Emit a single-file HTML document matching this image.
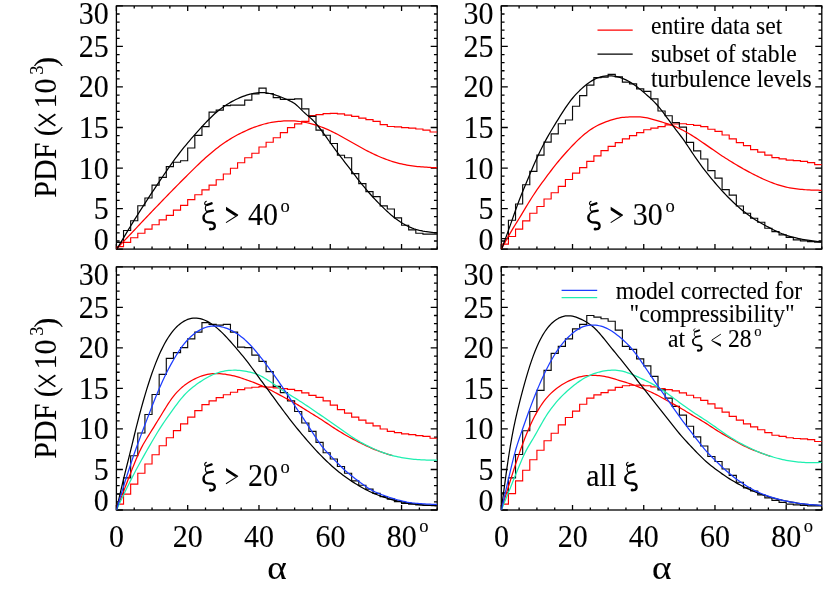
<!DOCTYPE html>
<html><head><meta charset="utf-8"><title>PDF of alpha</title>
<style>
html,body{margin:0;padding:0;background:#fff;}
body{width:830px;height:593px;overflow:hidden;font-family:"Liberation Serif",serif;}
svg{display:block;position:absolute;left:0;top:0;will-change:transform;}
text{font-family:"Liberation Serif",serif;fill:#000;stroke:#000;stroke-width:0.1px;}
.t{font-size:31.05px;}
.s{font-size:19.25px;}
.l{font-size:24.48px;}
.ls{font-size:15.18px;}
.al{font-size:33.22px;}
.xi{font-size:34.78px;}
.lxi{font-size:27.42px;}
.x{font-family:"Liberation Sans",sans-serif;font-size:26.70px;}
</style></head><body>
<svg width="830" height="593" viewBox="0 0 830 593">
<rect width="830" height="593" fill="#fff"/>
<path d="M116.40,249.1 v-5.0 M116.40,5.9 v5.0 M134.22,249.1 v-2.5 M134.22,5.9 v2.5 M152.04,249.1 v-2.5 M152.04,5.9 v2.5 M169.87,249.1 v-2.5 M169.87,5.9 v2.5 M187.69,249.1 v-5.0 M187.69,5.9 v5.0 M205.51,249.1 v-2.5 M205.51,5.9 v2.5 M223.33,249.1 v-2.5 M223.33,5.9 v2.5 M241.16,249.1 v-2.5 M241.16,5.9 v2.5 M258.98,249.1 v-5.0 M258.98,5.9 v5.0 M276.80,249.1 v-2.5 M276.80,5.9 v2.5 M294.62,249.1 v-2.5 M294.62,5.9 v2.5 M312.44,249.1 v-2.5 M312.44,5.9 v2.5 M330.27,249.1 v-5.0 M330.27,5.9 v5.0 M348.09,249.1 v-2.5 M348.09,5.9 v2.5 M365.91,249.1 v-2.5 M365.91,5.9 v2.5 M383.73,249.1 v-2.5 M383.73,5.9 v2.5 M401.56,249.1 v-5.0 M401.56,5.9 v5.0 M419.38,249.1 v-2.5 M419.38,5.9 v2.5 M437.20,249.1 v-2.5 M437.20,5.9 v2.5 M116.4,249.10 h6.5 M437.2,249.10 h-6.5 M116.4,240.99 h3.25 M437.2,240.99 h-3.25 M116.4,232.89 h3.25 M437.2,232.89 h-3.25 M116.4,224.78 h3.25 M437.2,224.78 h-3.25 M116.4,216.67 h3.25 M437.2,216.67 h-3.25 M116.4,208.57 h6.5 M437.2,208.57 h-6.5 M116.4,200.46 h3.25 M437.2,200.46 h-3.25 M116.4,192.35 h3.25 M437.2,192.35 h-3.25 M116.4,184.25 h3.25 M437.2,184.25 h-3.25 M116.4,176.14 h3.25 M437.2,176.14 h-3.25 M116.4,168.03 h6.5 M437.2,168.03 h-6.5 M116.4,159.93 h3.25 M437.2,159.93 h-3.25 M116.4,151.82 h3.25 M437.2,151.82 h-3.25 M116.4,143.71 h3.25 M437.2,143.71 h-3.25 M116.4,135.61 h3.25 M437.2,135.61 h-3.25 M116.4,127.50 h6.5 M437.2,127.50 h-6.5 M116.4,119.39 h3.25 M437.2,119.39 h-3.25 M116.4,111.29 h3.25 M437.2,111.29 h-3.25 M116.4,103.18 h3.25 M437.2,103.18 h-3.25 M116.4,95.07 h3.25 M437.2,95.07 h-3.25 M116.4,86.97 h6.5 M437.2,86.97 h-6.5 M116.4,78.86 h3.25 M437.2,78.86 h-3.25 M116.4,70.75 h3.25 M437.2,70.75 h-3.25 M116.4,62.65 h3.25 M437.2,62.65 h-3.25 M116.4,54.54 h3.25 M437.2,54.54 h-3.25 M116.4,46.43 h6.5 M437.2,46.43 h-6.5 M116.4,38.33 h3.25 M437.2,38.33 h-3.25 M116.4,30.22 h3.25 M437.2,30.22 h-3.25 M116.4,22.11 h3.25 M437.2,22.11 h-3.25 M116.4,14.01 h3.25 M437.2,14.01 h-3.25 M116.4,5.90 h6.5 M437.2,5.90 h-6.5" stroke="#000" stroke-width="1.3" fill="none"/>
<rect x="116.4" y="5.9" width="320.80" height="243.20" fill="none" stroke="#000" stroke-width="1.3"/>
<clipPath id="c1"><rect x="116.4" y="5.9" width="320.80" height="244.00"/></clipPath>
<g clip-path="url(#c1)">
<path d="M116.40,249.10 L116.40,246.67 L123.53,246.67 L123.53,242.37 L130.66,242.37 L130.66,237.75 L137.79,237.75 L137.79,233.29 L144.92,233.29 L144.92,229.08 L152.04,229.08 L152.04,224.78 L159.17,224.78 L159.17,219.92 L166.30,219.92 L166.30,215.30 L173.43,215.30 L173.43,210.19 L180.56,210.19 L180.56,205.32 L187.69,205.32 L187.69,199.65 L194.82,199.65 L194.82,194.79 L201.95,194.79 L201.95,189.92 L209.08,189.92 L209.08,185.06 L216.20,185.06 L216.20,179.71 L223.33,179.71 L223.33,173.95 L230.46,173.95 L230.46,168.28 L237.59,168.28 L237.59,162.76 L244.72,162.76 L244.72,157.74 L251.85,157.74 L251.85,153.28 L258.98,153.28 L258.98,146.96 L266.11,146.96 L266.11,142.25 L273.24,142.25 L273.24,137.71 L280.36,137.71 L280.36,132.69 L287.49,132.69 L287.49,127.66 L294.62,127.66 L294.62,123.93 L301.75,123.93 L301.75,121.42 L308.88,121.42 L308.88,115.66 L316.01,115.66 L316.01,114.69 L323.14,114.69 L323.14,113.64 L330.27,113.64 L330.27,113.39 L337.40,113.39 L337.40,113.88 L344.52,113.88 L344.52,115.18 L351.65,115.18 L351.65,116.39 L358.78,116.39 L358.78,118.18 L365.91,118.18 L365.91,119.64 L373.04,119.64 L373.04,121.42 L380.17,121.42 L380.17,124.66 L387.30,124.66 L387.30,126.45 L394.43,126.45 L394.43,126.93 L401.56,126.93 L401.56,127.66 L408.68,127.66 L408.68,128.15 L415.81,128.15 L415.81,128.96 L422.94,128.96 L422.94,130.18 L430.07,130.18 L430.07,131.96 L437.20,131.96" fill="none" stroke="#ff0000" stroke-width="1.15" stroke-linejoin="miter"/>
<path d="M116.40,249.10 L116.40,242.37 L123.53,242.37 L123.53,230.45 L130.66,230.45 L130.66,220.73 L137.79,220.73 L137.79,205.73 L144.92,205.73 L144.92,198.03 L152.04,198.03 L152.04,185.06 L159.17,185.06 L159.17,177.36 L166.30,177.36 L166.30,166.66 L173.43,166.66 L173.43,162.20 L180.56,162.20 L180.56,160.74 L187.69,160.74 L187.69,148.01 L194.82,148.01 L194.82,135.44 L201.95,135.44 L201.95,126.69 L209.08,126.69 L209.08,112.10 L216.20,112.10 L216.20,110.15 L223.33,110.15 L223.33,105.61 L230.46,105.61 L230.46,105.13 L237.59,105.13 L237.59,105.13 L244.72,105.13 L244.72,100.10 L251.85,100.10 L251.85,93.86 L258.98,93.86 L258.98,88.18 L266.11,88.18 L266.11,93.45 L273.24,93.45 L273.24,97.59 L280.36,97.59 L280.36,99.37 L287.49,99.37 L287.49,99.37 L294.62,99.37 L294.62,98.88 L301.75,98.88 L301.75,108.85 L308.88,108.85 L308.88,116.39 L316.01,116.39 L316.01,130.18 L323.14,130.18 L323.14,135.20 L330.27,135.20 L330.27,143.47 L337.40,143.47 L337.40,155.22 L344.52,155.22 L344.52,157.74 L351.65,157.74 L351.65,173.55 L358.78,173.55 L358.78,183.60 L365.91,183.60 L365.91,191.62 L373.04,191.62 L373.04,196.57 L380.17,196.57 L380.17,205.89 L387.30,205.89 L387.30,208.97 L394.43,208.97 L394.43,217.81 L401.56,217.81 L401.56,225.27 L408.68,225.27 L408.68,229.81 L415.81,229.81 L415.81,233.29 L422.94,233.29 L422.94,234.10 L430.07,234.10 L430.07,234.10 L437.20,234.10" fill="none" stroke="#0a0a0a" stroke-width="1.15" stroke-linejoin="miter"/>
<path d="M116.40,249.10 L118.18,247.21 L119.96,245.32 L121.75,243.43 L123.53,241.54 L125.31,239.65 L127.09,237.76 L128.88,235.88 L130.66,233.99 L132.44,232.10 L134.22,230.21 L136.00,228.32 L137.79,226.44 L139.57,224.55 L141.35,222.67 L143.13,220.78 L144.92,218.90 L146.70,217.02 L148.48,215.15 L150.26,213.27 L152.04,211.40 L153.83,209.54 L155.61,207.68 L157.39,205.82 L159.17,203.96 L160.96,202.11 L162.74,200.26 L164.52,198.42 L166.30,196.58 L168.08,194.75 L169.87,192.92 L171.65,191.10 L173.43,189.28 L175.21,187.46 L177.00,185.65 L178.78,183.85 L180.56,182.05 L182.34,180.26 L184.12,178.48 L185.91,176.70 L187.69,174.93 L189.47,173.16 L191.25,171.40 L193.04,169.65 L194.82,167.91 L196.60,166.17 L198.38,164.45 L200.16,162.75 L201.95,161.08 L203.73,159.43 L205.51,157.81 L207.29,156.22 L209.08,154.67 L210.86,153.15 L212.64,151.67 L214.42,150.23 L216.20,148.82 L217.99,147.45 L219.77,146.12 L221.55,144.82 L223.33,143.55 L225.12,142.32 L226.90,141.12 L228.68,139.97 L230.46,138.85 L232.24,137.77 L234.03,136.74 L235.81,135.75 L237.59,134.80 L239.37,133.88 L241.16,133.01 L242.94,132.15 L244.72,131.31 L246.50,130.48 L248.28,129.67 L250.07,128.89 L251.85,128.15 L253.63,127.46 L255.41,126.83 L257.20,126.22 L258.98,125.64 L260.76,125.06 L262.54,124.51 L264.32,124.00 L266.11,123.53 L267.89,123.12 L269.67,122.75 L271.45,122.44 L273.24,122.15 L275.02,121.89 L276.80,121.65 L278.58,121.44 L280.36,121.26 L282.15,121.10 L283.93,120.98 L285.71,120.89 L287.49,120.83 L289.28,120.81 L291.06,120.82 L292.84,120.88 L294.62,120.98 L296.40,121.11 L298.19,121.29 L299.97,121.50 L301.75,121.76 L303.53,122.05 L305.32,122.38 L307.10,122.74 L308.88,123.15 L310.66,123.59 L312.44,124.07 L314.23,124.58 L316.01,125.13 L317.79,125.71 L319.57,126.33 L321.36,126.98 L323.14,127.67 L324.92,128.39 L326.70,129.14 L328.48,129.93 L330.27,130.74 L332.05,131.59 L333.83,132.47 L335.61,133.37 L337.40,134.30 L339.18,135.25 L340.96,136.21 L342.74,137.19 L344.52,138.19 L346.31,139.20 L348.09,140.21 L349.87,141.23 L351.65,142.25 L353.44,143.27 L355.22,144.29 L357.00,145.30 L358.78,146.31 L360.56,147.30 L362.35,148.29 L364.13,149.25 L365.91,150.20 L367.69,151.13 L369.48,152.03 L371.26,152.91 L373.04,153.77 L374.82,154.61 L376.60,155.42 L378.39,156.21 L380.17,156.97 L381.95,157.71 L383.73,158.42 L385.52,159.11 L387.30,159.76 L389.08,160.39 L390.86,160.99 L392.64,161.57 L394.43,162.11 L396.21,162.62 L397.99,163.11 L399.77,163.56 L401.56,163.98 L403.34,164.37 L405.12,164.73 L406.90,165.06 L408.68,165.36 L410.47,165.63 L412.25,165.89 L414.03,166.12 L415.81,166.33 L417.60,166.52 L419.38,166.69 L421.16,166.84 L422.94,166.99 L424.72,167.11 L426.51,167.23 L428.29,167.34 L430.07,167.44 L431.85,167.53 L433.64,167.62 L435.42,167.71 L437.20,167.79" fill="none" stroke="#ff0000" stroke-width="1.25" stroke-linejoin="round"/>
<path d="M116.40,249.91 L118.18,246.89 L119.96,243.87 L121.75,240.86 L123.53,237.86 L125.31,234.87 L127.09,231.89 L128.88,228.94 L130.66,226.00 L132.44,223.08 L134.22,220.18 L136.00,217.31 L137.79,214.47 L139.57,211.64 L141.35,208.84 L143.13,206.06 L144.92,203.30 L146.70,200.56 L148.48,197.85 L150.26,195.15 L152.04,192.46 L153.83,189.79 L155.61,187.13 L157.39,184.47 L159.17,181.81 L160.96,179.16 L162.74,176.52 L164.52,173.89 L166.30,171.28 L168.08,168.69 L169.87,166.14 L171.65,163.62 L173.43,161.14 L175.21,158.72 L177.00,156.34 L178.78,154.00 L180.56,151.71 L182.34,149.45 L184.12,147.23 L185.91,145.05 L187.69,142.90 L189.47,140.78 L191.25,138.69 L193.04,136.63 L194.82,134.59 L196.60,132.58 L198.38,130.60 L200.16,128.63 L201.95,126.69 L203.73,124.77 L205.51,122.88 L207.29,121.02 L209.08,119.20 L210.86,117.44 L212.64,115.73 L214.42,114.08 L216.20,112.50 L217.99,111.00 L219.77,109.58 L221.55,108.22 L223.33,106.93 L225.12,105.71 L226.90,104.55 L228.68,103.45 L230.46,102.40 L232.24,101.40 L234.03,100.46 L235.81,99.56 L237.59,98.70 L239.37,97.90 L241.16,97.15 L242.94,96.45 L244.72,95.80 L246.50,95.21 L248.28,94.67 L250.07,94.18 L251.85,93.76 L253.63,93.39 L255.41,93.09 L257.20,92.86 L258.98,92.71 L260.76,92.63 L262.54,92.64 L264.32,92.74 L266.11,92.91 L267.89,93.17 L269.67,93.50 L271.45,93.90 L273.24,94.37 L275.02,94.90 L276.80,95.48 L278.58,96.11 L280.36,96.79 L282.15,97.51 L283.93,98.25 L285.71,99.02 L287.49,99.80 L289.28,100.59 L291.06,101.44 L292.84,102.41 L294.62,103.59 L296.40,105.00 L298.19,106.62 L299.97,108.36 L301.75,110.14 L303.53,111.90 L305.32,113.55 L307.10,115.10 L308.88,116.61 L310.66,118.15 L312.44,119.80 L314.23,121.62 L316.01,123.61 L317.79,125.74 L319.57,127.99 L321.36,130.33 L323.14,132.76 L324.92,135.23 L326.70,137.73 L328.48,140.24 L330.27,142.74 L332.05,145.20 L333.83,147.63 L335.61,150.03 L337.40,152.41 L339.18,154.77 L340.96,157.11 L342.74,159.44 L344.52,161.77 L346.31,164.09 L348.09,166.41 L349.87,168.74 L351.65,171.07 L353.44,173.40 L355.22,175.72 L357.00,178.02 L358.78,180.30 L360.56,182.56 L362.35,184.78 L364.13,186.97 L365.91,189.11 L367.69,191.21 L369.48,193.26 L371.26,195.27 L373.04,197.23 L374.82,199.15 L376.60,201.03 L378.39,202.87 L380.17,204.67 L381.95,206.43 L383.73,208.16 L385.52,209.86 L387.30,211.51 L389.08,213.12 L390.86,214.69 L392.64,216.19 L394.43,217.64 L396.21,219.03 L397.99,220.35 L399.77,221.59 L401.56,222.75 L403.34,223.83 L405.12,224.83 L406.90,225.76 L408.68,226.60 L410.47,227.38 L412.25,228.09 L414.03,228.73 L415.81,229.31 L417.60,229.83 L419.38,230.29 L421.16,230.70 L422.94,231.07 L424.72,231.39 L426.51,231.67 L428.29,231.92 L430.07,232.15 L431.85,232.35 L433.64,232.54 L435.42,232.71 L437.20,232.89" fill="none" stroke="#000000" stroke-width="1.25" stroke-linejoin="round"/>
</g>
<text transform="translate(108.70,249.80) scale(0.9662,1)" class="t" text-anchor="end">0</text>
<text transform="translate(108.70,219.07) scale(0.9662,1)" class="t" text-anchor="end">5</text>
<text transform="translate(108.70,178.53) scale(0.9662,1)" class="t" text-anchor="end">10</text>
<text transform="translate(108.70,138.00) scale(0.9662,1)" class="t" text-anchor="end">15</text>
<text transform="translate(108.70,97.47) scale(0.9662,1)" class="t" text-anchor="end">20</text>
<text transform="translate(108.70,56.93) scale(0.9662,1)" class="t" text-anchor="end">25</text>
<text transform="translate(108.70,23.80) scale(0.9662,1)" class="t" text-anchor="end">30</text>
<g transform="translate(55.8,127.50) rotate(-90)">
<text transform="translate(-70.20,0.00) scale(0.9662,1)" class="t" text-anchor="start">PDF <tspan dx="-1.03">(</tspan></text>
<path d="M1.8,-17.2 L13.2,-0.4 M1.8,-0.4 L13.2,-17.2" stroke="#000" stroke-width="1.7" fill="none"/>
<text transform="translate(19.00,0.00) scale(0.9662,1)" class="t" text-anchor="start">10</text>
<text transform="translate(52.80,-12.70) scale(0.9662,1)" class="s" text-anchor="start">3</text>
<text transform="translate(60.60,0.00) scale(0.9662,1)" class="t" text-anchor="start">)</text>
</g>
<path d="M501.30,249.1 v-5.0 M501.30,5.9 v5.0 M519.11,249.1 v-2.5 M519.11,5.9 v2.5 M536.91,249.1 v-2.5 M536.91,5.9 v2.5 M554.72,249.1 v-2.5 M554.72,5.9 v2.5 M572.52,249.1 v-5.0 M572.52,5.9 v5.0 M590.33,249.1 v-2.5 M590.33,5.9 v2.5 M608.13,249.1 v-2.5 M608.13,5.9 v2.5 M625.94,249.1 v-2.5 M625.94,5.9 v2.5 M643.74,249.1 v-5.0 M643.74,5.9 v5.0 M661.55,249.1 v-2.5 M661.55,5.9 v2.5 M679.36,249.1 v-2.5 M679.36,5.9 v2.5 M697.16,249.1 v-2.5 M697.16,5.9 v2.5 M714.97,249.1 v-5.0 M714.97,5.9 v5.0 M732.77,249.1 v-2.5 M732.77,5.9 v2.5 M750.58,249.1 v-2.5 M750.58,5.9 v2.5 M768.38,249.1 v-2.5 M768.38,5.9 v2.5 M786.19,249.1 v-5.0 M786.19,5.9 v5.0 M803.99,249.1 v-2.5 M803.99,5.9 v2.5 M821.80,249.1 v-2.5 M821.80,5.9 v2.5 M501.3,249.10 h6.5 M821.8,249.10 h-6.5 M501.3,240.99 h3.25 M821.8,240.99 h-3.25 M501.3,232.89 h3.25 M821.8,232.89 h-3.25 M501.3,224.78 h3.25 M821.8,224.78 h-3.25 M501.3,216.67 h3.25 M821.8,216.67 h-3.25 M501.3,208.57 h6.5 M821.8,208.57 h-6.5 M501.3,200.46 h3.25 M821.8,200.46 h-3.25 M501.3,192.35 h3.25 M821.8,192.35 h-3.25 M501.3,184.25 h3.25 M821.8,184.25 h-3.25 M501.3,176.14 h3.25 M821.8,176.14 h-3.25 M501.3,168.03 h6.5 M821.8,168.03 h-6.5 M501.3,159.93 h3.25 M821.8,159.93 h-3.25 M501.3,151.82 h3.25 M821.8,151.82 h-3.25 M501.3,143.71 h3.25 M821.8,143.71 h-3.25 M501.3,135.61 h3.25 M821.8,135.61 h-3.25 M501.3,127.50 h6.5 M821.8,127.50 h-6.5 M501.3,119.39 h3.25 M821.8,119.39 h-3.25 M501.3,111.29 h3.25 M821.8,111.29 h-3.25 M501.3,103.18 h3.25 M821.8,103.18 h-3.25 M501.3,95.07 h3.25 M821.8,95.07 h-3.25 M501.3,86.97 h6.5 M821.8,86.97 h-6.5 M501.3,78.86 h3.25 M821.8,78.86 h-3.25 M501.3,70.75 h3.25 M821.8,70.75 h-3.25 M501.3,62.65 h3.25 M821.8,62.65 h-3.25 M501.3,54.54 h3.25 M821.8,54.54 h-3.25 M501.3,46.43 h6.5 M821.8,46.43 h-6.5 M501.3,38.33 h3.25 M821.8,38.33 h-3.25 M501.3,30.22 h3.25 M821.8,30.22 h-3.25 M501.3,22.11 h3.25 M821.8,22.11 h-3.25 M501.3,14.01 h3.25 M821.8,14.01 h-3.25 M501.3,5.90 h6.5 M821.8,5.90 h-6.5" stroke="#000" stroke-width="1.3" fill="none"/>
<rect x="501.3" y="5.9" width="320.50" height="243.20" fill="none" stroke="#000" stroke-width="1.3"/>
<clipPath id="c2"><rect x="501.3" y="5.9" width="320.50" height="244.00"/></clipPath>
<g clip-path="url(#c2)">
<path d="M501.30,249.10 L501.30,244.07 L508.42,244.07 L508.42,236.53 L515.54,236.53 L515.54,229.08 L522.67,229.08 L522.67,220.81 L529.79,220.81 L529.79,213.27 L536.91,213.27 L536.91,206.46 L544.03,206.46 L544.03,199.00 L551.16,199.00 L551.16,192.76 L558.28,192.76 L558.28,186.44 L565.40,186.44 L565.40,179.46 L572.52,179.46 L572.52,173.14 L579.64,173.14 L579.64,167.63 L586.77,167.63 L586.77,161.39 L593.89,161.39 L593.89,155.87 L601.01,155.87 L601.01,150.60 L608.13,150.60 L608.13,146.39 L615.26,146.39 L615.26,142.58 L622.38,142.58 L622.38,138.85 L629.50,138.85 L629.50,135.61 L636.62,135.61 L636.62,132.61 L643.74,132.61 L643.74,129.77 L650.87,129.77 L650.87,128.15 L657.99,128.15 L657.99,126.69 L665.11,126.69 L665.11,124.82 L672.23,124.82 L672.23,124.01 L679.36,124.01 L679.36,123.77 L686.48,123.77 L686.48,124.50 L693.60,124.50 L693.60,125.39 L700.72,125.39 L700.72,126.69 L707.84,126.69 L707.84,129.28 L714.97,129.28 L714.97,131.31 L722.09,131.31 L722.09,135.04 L729.21,135.04 L729.21,138.85 L736.33,138.85 L736.33,142.58 L743.46,142.58 L743.46,145.58 L750.58,145.58 L750.58,149.63 L757.70,149.63 L757.70,152.14 L764.82,152.14 L764.82,155.14 L771.94,155.14 L771.94,157.66 L779.07,157.66 L779.07,158.87 L786.19,158.87 L786.19,160.17 L793.31,160.17 L793.31,160.66 L800.43,160.66 L800.43,161.39 L807.56,161.39 L807.56,162.60 L814.68,162.60 L814.68,164.63 L821.80,164.63" fill="none" stroke="#ff0000" stroke-width="1.15" stroke-linejoin="miter"/>
<path d="M501.30,249.10 L501.30,238.56 L508.42,238.56 L508.42,220.24 L515.54,220.24 L515.54,204.03 L522.67,204.03 L522.67,184.73 L529.79,184.73 L529.79,171.44 L536.91,171.44 L536.91,155.14 L544.03,155.14 L544.03,142.09 L551.16,142.09 L551.16,133.82 L558.28,133.82 L558.28,123.77 L565.40,123.77 L565.40,120.04 L572.52,120.04 L572.52,106.26 L579.64,106.26 L579.64,95.64 L586.77,95.64 L586.77,85.10 L593.89,85.10 L593.89,77.56 L601.01,77.56 L601.01,77.08 L608.13,77.08 L608.13,74.32 L615.26,74.32 L615.26,76.83 L622.38,76.83 L622.38,82.10 L629.50,82.10 L629.50,83.81 L636.62,83.81 L636.62,88.83 L643.74,88.83 L643.74,91.34 L650.87,91.34 L650.87,98.88 L657.99,98.88 L657.99,111.04 L665.11,111.04 L665.11,115.75 L672.23,115.75 L672.23,122.64 L679.36,122.64 L679.36,127.09 L686.48,127.09 L686.48,142.42 L693.60,142.42 L693.60,150.85 L700.72,150.85 L700.72,158.95 L707.84,158.95 L707.84,170.63 L714.97,170.63 L714.97,178.17 L722.09,178.17 L722.09,189.68 L729.21,189.68 L729.21,195.19 L736.33,195.19 L736.33,205.97 L743.46,205.97 L743.46,213.27 L750.58,213.27 L750.58,218.29 L757.70,218.29 L757.70,222.27 L764.82,222.27 L764.82,228.27 L771.94,228.27 L771.94,231.59 L779.07,231.59 L779.07,234.83 L786.19,234.83 L786.19,237.35 L793.31,237.35 L793.31,239.86 L800.43,239.86 L800.43,240.83 L807.56,240.83 L807.56,241.56 L814.68,241.56 L814.68,242.05 L821.80,242.05" fill="none" stroke="#0a0a0a" stroke-width="1.15" stroke-linejoin="miter"/>
<path d="M501.30,249.10 L503.08,245.84 L504.86,242.60 L506.64,239.39 L508.42,236.24 L510.20,233.15 L511.98,230.14 L513.76,227.19 L515.54,224.28 L517.33,221.39 L519.11,218.49 L520.89,215.57 L522.67,212.62 L524.45,209.65 L526.23,206.69 L528.01,203.75 L529.79,200.86 L531.57,198.02 L533.35,195.26 L535.13,192.57 L536.91,189.96 L538.69,187.41 L540.47,184.91 L542.25,182.45 L544.03,180.02 L545.81,177.61 L547.59,175.22 L549.38,172.84 L551.16,170.50 L552.94,168.18 L554.72,165.91 L556.50,163.68 L558.28,161.49 L560.06,159.36 L561.84,157.27 L563.62,155.22 L565.40,153.22 L567.18,151.25 L568.96,149.32 L570.74,147.41 L572.52,145.54 L574.30,143.71 L576.08,141.91 L577.86,140.17 L579.64,138.48 L581.42,136.86 L583.21,135.30 L584.99,133.82 L586.77,132.40 L588.55,131.07 L590.33,129.81 L592.11,128.62 L593.89,127.52 L595.67,126.49 L597.45,125.54 L599.23,124.66 L601.01,123.84 L602.79,123.08 L604.57,122.36 L606.35,121.69 L608.13,121.05 L609.91,120.44 L611.69,119.87 L613.48,119.33 L615.26,118.85 L617.04,118.41 L618.82,118.03 L620.60,117.71 L622.38,117.46 L624.16,117.27 L625.94,117.12 L627.72,117.02 L629.50,116.95 L631.28,116.90 L633.06,116.88 L634.84,116.86 L636.62,116.87 L638.40,116.90 L640.18,116.99 L641.96,117.13 L643.74,117.33 L645.52,117.61 L647.31,117.97 L649.09,118.40 L650.87,118.88 L652.65,119.39 L654.43,119.91 L656.21,120.42 L657.99,120.93 L659.77,121.44 L661.55,121.96 L663.33,122.49 L665.11,123.03 L666.89,123.59 L668.67,124.18 L670.45,124.80 L672.23,125.46 L674.01,126.16 L675.79,126.91 L677.57,127.70 L679.36,128.53 L681.14,129.40 L682.92,130.31 L684.70,131.26 L686.48,132.24 L688.26,133.26 L690.04,134.31 L691.82,135.39 L693.60,136.50 L695.38,137.63 L697.16,138.80 L698.94,139.98 L700.72,141.18 L702.50,142.40 L704.28,143.63 L706.06,144.87 L707.84,146.12 L709.62,147.37 L711.41,148.62 L713.19,149.86 L714.97,151.10 L716.75,152.32 L718.53,153.53 L720.31,154.73 L722.09,155.90 L723.87,157.05 L725.65,158.19 L727.43,159.32 L729.21,160.44 L730.99,161.55 L732.77,162.64 L734.55,163.72 L736.33,164.79 L738.11,165.84 L739.89,166.88 L741.67,167.91 L743.46,168.92 L745.24,169.91 L747.02,170.89 L748.80,171.85 L750.58,172.80 L752.36,173.73 L754.14,174.64 L755.92,175.54 L757.70,176.42 L759.48,177.28 L761.26,178.13 L763.04,178.95 L764.82,179.74 L766.60,180.52 L768.38,181.27 L770.16,181.99 L771.94,182.68 L773.72,183.34 L775.51,183.98 L777.29,184.58 L779.07,185.15 L780.85,185.69 L782.63,186.19 L784.41,186.66 L786.19,187.09 L787.97,187.49 L789.75,187.85 L791.53,188.17 L793.31,188.46 L795.09,188.72 L796.87,188.95 L798.65,189.15 L800.43,189.33 L802.21,189.49 L803.99,189.63 L805.77,189.75 L807.56,189.85 L809.34,189.94 L811.12,190.02 L812.90,190.09 L814.68,190.15 L816.46,190.20 L818.24,190.24 L820.02,190.29 L821.80,190.33" fill="none" stroke="#ff0000" stroke-width="1.25" stroke-linejoin="round"/>
<path d="M501.30,249.91 L503.08,245.09 L504.86,240.24 L506.64,235.35 L508.42,230.40 L510.20,225.39 L511.98,220.34 L513.76,215.30 L515.54,210.28 L517.33,205.34 L519.11,200.54 L520.89,195.94 L522.67,191.52 L524.45,187.23 L526.23,182.96 L528.01,178.68 L529.79,174.38 L531.57,170.14 L533.35,165.98 L535.13,161.93 L536.91,158.00 L538.69,154.19 L540.47,150.49 L542.25,146.92 L544.03,143.46 L545.81,140.12 L547.59,136.90 L549.38,133.77 L551.16,130.73 L552.94,127.75 L554.72,124.82 L556.50,121.93 L558.28,119.06 L560.06,116.20 L561.84,113.38 L563.62,110.61 L565.40,107.92 L567.18,105.32 L568.96,102.83 L570.74,100.47 L572.52,98.25 L574.30,96.16 L576.08,94.19 L577.86,92.33 L579.64,90.57 L581.42,88.90 L583.21,87.30 L584.99,85.78 L586.77,84.34 L588.55,83.00 L590.33,81.75 L592.11,80.61 L593.89,79.59 L595.67,78.69 L597.45,77.93 L599.23,77.29 L601.01,76.77 L602.79,76.37 L604.57,76.08 L606.35,75.89 L608.13,75.79 L609.91,75.79 L611.69,75.88 L613.48,76.05 L615.26,76.32 L617.04,76.68 L618.82,77.13 L620.60,77.68 L622.38,78.32 L624.16,79.06 L625.94,79.89 L627.72,80.80 L629.50,81.80 L631.28,82.88 L633.06,84.04 L634.84,85.28 L636.62,86.59 L638.40,87.95 L640.18,89.37 L641.96,90.83 L643.74,92.33 L645.52,93.86 L647.31,95.41 L649.09,96.99 L650.87,98.63 L652.65,100.33 L654.43,102.12 L656.21,104.01 L657.99,106.02 L659.77,108.15 L661.55,110.39 L663.33,112.72 L665.11,115.11 L666.89,117.54 L668.67,119.99 L670.45,122.44 L672.23,124.86 L674.01,127.22 L675.79,129.54 L677.57,131.84 L679.36,134.15 L681.14,136.50 L682.92,138.93 L684.70,141.46 L686.48,144.07 L688.26,146.73 L690.04,149.42 L691.82,152.10 L693.60,154.75 L695.38,157.35 L697.16,159.92 L698.94,162.44 L700.72,164.90 L702.50,167.32 L704.28,169.68 L706.06,171.98 L707.84,174.22 L709.62,176.42 L711.41,178.57 L713.19,180.69 L714.97,182.76 L716.75,184.81 L718.53,186.84 L720.31,188.83 L722.09,190.80 L723.87,192.73 L725.65,194.63 L727.43,196.48 L729.21,198.29 L730.99,200.05 L732.77,201.76 L734.55,203.43 L736.33,205.05 L738.11,206.63 L739.89,208.18 L741.67,209.68 L743.46,211.15 L745.24,212.58 L747.02,213.96 L748.80,215.31 L750.58,216.61 L752.36,217.86 L754.14,219.05 L755.92,220.18 L757.70,221.27 L759.48,222.30 L761.26,223.30 L763.04,224.28 L764.82,225.24 L766.60,226.18 L768.38,227.13 L770.16,228.08 L771.94,229.02 L773.72,229.94 L775.51,230.83 L777.29,231.68 L779.07,232.50 L780.85,233.25 L782.63,233.96 L784.41,234.61 L786.19,235.22 L787.97,235.79 L789.75,236.32 L791.53,236.82 L793.31,237.29 L795.09,237.73 L796.87,238.15 L798.65,238.55 L800.43,238.92 L802.21,239.27 L803.99,239.59 L805.77,239.90 L807.56,240.18 L809.34,240.44 L811.12,240.69 L812.90,240.92 L814.68,241.15 L816.46,241.36 L818.24,241.57 L820.02,241.77 L821.80,241.97" fill="none" stroke="#000000" stroke-width="1.25" stroke-linejoin="round"/>
</g>
<text transform="translate(493.60,249.80) scale(0.9662,1)" class="t" text-anchor="end">0</text>
<text transform="translate(493.60,219.07) scale(0.9662,1)" class="t" text-anchor="end">5</text>
<text transform="translate(493.60,178.53) scale(0.9662,1)" class="t" text-anchor="end">10</text>
<text transform="translate(493.60,138.00) scale(0.9662,1)" class="t" text-anchor="end">15</text>
<text transform="translate(493.60,97.47) scale(0.9662,1)" class="t" text-anchor="end">20</text>
<text transform="translate(493.60,56.93) scale(0.9662,1)" class="t" text-anchor="end">25</text>
<text transform="translate(493.60,23.80) scale(0.9662,1)" class="t" text-anchor="end">30</text>
<path d="M116.40,510.0 v-5.0 M116.40,266.9 v5.0 M134.22,510.0 v-2.5 M134.22,266.9 v2.5 M152.04,510.0 v-2.5 M152.04,266.9 v2.5 M169.87,510.0 v-2.5 M169.87,266.9 v2.5 M187.69,510.0 v-5.0 M187.69,266.9 v5.0 M205.51,510.0 v-2.5 M205.51,266.9 v2.5 M223.33,510.0 v-2.5 M223.33,266.9 v2.5 M241.16,510.0 v-2.5 M241.16,266.9 v2.5 M258.98,510.0 v-5.0 M258.98,266.9 v5.0 M276.80,510.0 v-2.5 M276.80,266.9 v2.5 M294.62,510.0 v-2.5 M294.62,266.9 v2.5 M312.44,510.0 v-2.5 M312.44,266.9 v2.5 M330.27,510.0 v-5.0 M330.27,266.9 v5.0 M348.09,510.0 v-2.5 M348.09,266.9 v2.5 M365.91,510.0 v-2.5 M365.91,266.9 v2.5 M383.73,510.0 v-2.5 M383.73,266.9 v2.5 M401.56,510.0 v-5.0 M401.56,266.9 v5.0 M419.38,510.0 v-2.5 M419.38,266.9 v2.5 M437.20,510.0 v-2.5 M437.20,266.9 v2.5 M116.4,510.00 h6.5 M437.2,510.00 h-6.5 M116.4,501.90 h3.25 M437.2,501.90 h-3.25 M116.4,493.79 h3.25 M437.2,493.79 h-3.25 M116.4,485.69 h3.25 M437.2,485.69 h-3.25 M116.4,477.59 h3.25 M437.2,477.59 h-3.25 M116.4,469.48 h6.5 M437.2,469.48 h-6.5 M116.4,461.38 h3.25 M437.2,461.38 h-3.25 M116.4,453.28 h3.25 M437.2,453.28 h-3.25 M116.4,445.17 h3.25 M437.2,445.17 h-3.25 M116.4,437.07 h3.25 M437.2,437.07 h-3.25 M116.4,428.97 h6.5 M437.2,428.97 h-6.5 M116.4,420.86 h3.25 M437.2,420.86 h-3.25 M116.4,412.76 h3.25 M437.2,412.76 h-3.25 M116.4,404.66 h3.25 M437.2,404.66 h-3.25 M116.4,396.55 h3.25 M437.2,396.55 h-3.25 M116.4,388.45 h6.5 M437.2,388.45 h-6.5 M116.4,380.35 h3.25 M437.2,380.35 h-3.25 M116.4,372.24 h3.25 M437.2,372.24 h-3.25 M116.4,364.14 h3.25 M437.2,364.14 h-3.25 M116.4,356.04 h3.25 M437.2,356.04 h-3.25 M116.4,347.93 h6.5 M437.2,347.93 h-6.5 M116.4,339.83 h3.25 M437.2,339.83 h-3.25 M116.4,331.73 h3.25 M437.2,331.73 h-3.25 M116.4,323.62 h3.25 M437.2,323.62 h-3.25 M116.4,315.52 h3.25 M437.2,315.52 h-3.25 M116.4,307.42 h6.5 M437.2,307.42 h-6.5 M116.4,299.31 h3.25 M437.2,299.31 h-3.25 M116.4,291.21 h3.25 M437.2,291.21 h-3.25 M116.4,283.11 h3.25 M437.2,283.11 h-3.25 M116.4,275.00 h3.25 M437.2,275.00 h-3.25 M116.4,266.90 h6.5 M437.2,266.90 h-6.5" stroke="#000" stroke-width="1.3" fill="none"/>
<rect x="116.4" y="266.9" width="320.80" height="243.10" fill="none" stroke="#000" stroke-width="1.3"/>
<clipPath id="c3"><rect x="116.4" y="266.9" width="320.80" height="243.90"/></clipPath>
<g clip-path="url(#c3)">
<path d="M116.40,510.00 L116.40,504.08 L123.53,504.08 L123.53,494.12 L130.66,494.12 L130.66,484.07 L137.79,484.07 L137.79,473.29 L144.92,473.29 L144.92,463.97 L152.04,463.97 L152.04,454.74 L159.17,454.74 L159.17,445.74 L166.30,445.74 L166.30,437.72 L173.43,437.72 L173.43,430.67 L180.56,430.67 L180.56,423.94 L187.69,423.94 L187.69,417.14 L194.82,417.14 L194.82,410.65 L201.95,410.65 L201.95,404.66 L209.08,404.66 L209.08,400.85 L216.20,400.85 L216.20,397.61 L223.33,397.61 L223.33,394.77 L230.46,394.77 L230.46,392.26 L237.59,392.26 L237.59,389.67 L244.72,389.67 L244.72,388.04 L251.85,388.04 L251.85,387.23 L258.98,387.23 L258.98,386.67 L266.11,386.67 L266.11,387.07 L273.24,387.07 L273.24,387.80 L280.36,387.80 L280.36,388.61 L287.49,388.61 L287.49,389.34 L294.62,389.34 L294.62,390.64 L301.75,390.64 L301.75,392.83 L308.88,392.83 L308.88,395.34 L316.01,395.34 L316.01,397.36 L323.14,397.36 L323.14,400.85 L330.27,400.85 L330.27,405.06 L337.40,405.06 L337.40,409.60 L344.52,409.60 L344.52,413.08 L351.65,413.08 L351.65,417.14 L358.78,417.14 L358.78,420.13 L365.91,420.13 L365.91,423.13 L373.04,423.13 L373.04,425.89 L380.17,425.89 L380.17,428.97 L387.30,428.97 L387.30,431.40 L394.43,431.40 L394.43,432.69 L401.56,432.69 L401.56,433.91 L408.68,433.91 L408.68,434.64 L415.81,434.64 L415.81,435.69 L422.94,435.69 L422.94,436.42 L430.07,436.42 L430.07,438.20 L437.20,438.20" fill="none" stroke="#ff0000" stroke-width="1.15" stroke-linejoin="miter"/>
<path d="M116.40,510.00 L116.40,494.12 L123.53,494.12 L123.53,477.83 L130.66,477.83 L130.66,455.71 L137.79,455.71 L137.79,433.02 L144.92,433.02 L144.92,414.54 L152.04,414.54 L152.04,394.53 L159.17,394.53 L159.17,374.43 L166.30,374.43 L166.30,358.39 L173.43,358.39 L173.43,352.63 L180.56,352.63 L180.56,347.61 L187.69,347.61 L187.69,338.86 L194.82,338.86 L194.82,332.05 L201.95,332.05 L201.95,322.57 L209.08,322.57 L209.08,324.35 L216.20,324.35 L216.20,325.08 L223.33,325.08 L223.33,324.35 L230.46,324.35 L230.46,332.05 L237.59,332.05 L237.59,347.12 L244.72,347.12 L244.72,347.61 L251.85,347.61 L251.85,355.15 L258.98,355.15 L258.98,361.38 L266.11,361.38 L266.11,371.68 L273.24,371.68 L273.24,386.42 L280.36,386.42 L280.36,392.66 L287.49,392.66 L287.49,400.93 L294.62,400.93 L294.62,411.46 L301.75,411.46 L301.75,422.97 L308.88,422.97 L308.88,431.40 L316.01,431.40 L316.01,442.34 L323.14,442.34 L323.14,452.71 L330.27,452.71 L330.27,459.03 L337.40,459.03 L337.40,466.49 L344.52,466.49 L344.52,473.29 L351.65,473.29 L351.65,480.83 L358.78,480.83 L358.78,485.28 L365.91,485.28 L365.91,489.09 L373.04,489.09 L373.04,493.31 L380.17,493.31 L380.17,496.55 L387.30,496.55 L387.30,499.06 L394.43,499.06 L394.43,501.57 L401.56,501.57 L401.56,503.36 L408.68,503.36 L408.68,504.08 L415.81,504.08 L415.81,504.89 L422.94,504.89 L422.94,505.38 L430.07,505.38 L430.07,505.38 L437.20,505.38" fill="none" stroke="#0a0a0a" stroke-width="1.15" stroke-linejoin="miter"/>
<path d="M116.40,510.00 L118.18,505.37 L119.96,500.74 L121.75,496.11 L123.53,491.48 L125.31,486.85 L127.09,482.22 L128.88,477.59 L130.66,472.96 L132.44,468.38 L134.22,463.90 L136.00,459.55 L137.79,455.40 L139.57,451.48 L141.35,447.85 L143.13,444.52 L144.92,441.44 L146.70,438.51 L148.48,435.64 L150.26,432.77 L152.04,429.91 L153.83,427.05 L155.61,424.18 L157.39,421.29 L159.17,418.39 L160.96,415.46 L162.74,412.52 L164.52,409.59 L166.30,406.72 L168.08,403.93 L169.87,401.24 L171.65,398.71 L173.43,396.35 L175.21,394.18 L177.00,392.18 L178.78,390.33 L180.56,388.64 L182.34,387.07 L184.12,385.62 L185.91,384.28 L187.69,383.02 L189.47,381.85 L191.25,380.77 L193.04,379.77 L194.82,378.84 L196.60,377.99 L198.38,377.21 L200.16,376.49 L201.95,375.85 L203.73,375.28 L205.51,374.78 L207.29,374.37 L209.08,374.04 L210.86,373.79 L212.64,373.62 L214.42,373.54 L216.20,373.52 L217.99,373.56 L219.77,373.66 L221.55,373.81 L223.33,374.01 L225.12,374.24 L226.90,374.51 L228.68,374.81 L230.46,375.16 L232.24,375.54 L234.03,375.97 L235.81,376.43 L237.59,376.93 L239.37,377.46 L241.16,378.02 L242.94,378.61 L244.72,379.22 L246.50,379.84 L248.28,380.47 L250.07,381.12 L251.85,381.78 L253.63,382.45 L255.41,383.14 L257.20,383.86 L258.98,384.60 L260.76,385.36 L262.54,386.16 L264.32,386.99 L266.11,387.84 L267.89,388.71 L269.67,389.61 L271.45,390.53 L273.24,391.48 L275.02,392.43 L276.80,393.40 L278.58,394.38 L280.36,395.35 L282.15,396.31 L283.93,397.26 L285.71,398.20 L287.49,399.14 L289.28,400.08 L291.06,401.04 L292.84,402.02 L294.62,403.04 L296.40,404.08 L298.19,405.16 L299.97,406.26 L301.75,407.38 L303.53,408.50 L305.32,409.62 L307.10,410.73 L308.88,411.83 L310.66,412.92 L312.44,414.01 L314.23,415.10 L316.01,416.19 L317.79,417.30 L319.57,418.43 L321.36,419.59 L323.14,420.76 L324.92,421.95 L326.70,423.14 L328.48,424.34 L330.27,425.53 L332.05,426.71 L333.83,427.87 L335.61,429.01 L337.40,430.13 L339.18,431.23 L340.96,432.32 L342.74,433.38 L344.52,434.43 L346.31,435.46 L348.09,436.47 L349.87,437.46 L351.65,438.42 L353.44,439.36 L355.22,440.28 L357.00,441.18 L358.78,442.09 L360.56,442.99 L362.35,443.88 L364.13,444.75 L365.91,445.61 L367.69,446.45 L369.48,447.27 L371.26,448.06 L373.04,448.83 L374.82,449.57 L376.60,450.28 L378.39,450.98 L380.17,451.64 L381.95,452.28 L383.73,452.89 L385.52,453.48 L387.30,454.04 L389.08,454.57 L390.86,455.09 L392.64,455.57" fill="none" stroke="#ff0000" stroke-width="1.25" stroke-linejoin="round"/>
<path d="M116.40,510.00 L118.18,506.22 L119.96,502.44 L121.75,498.68 L123.53,494.95 L125.31,491.24 L127.09,487.58 L128.88,483.96 L130.66,480.39 L132.44,476.89 L134.22,473.46 L136.00,470.08 L137.79,466.76 L139.57,463.50 L141.35,460.27 L143.13,457.08 L144.92,453.92 L146.70,450.79 L148.48,447.67 L150.26,444.57 L152.04,441.50 L153.83,438.47 L155.61,435.48 L157.39,432.55 L159.17,429.68 L160.96,426.88 L162.74,424.15 L164.52,421.48 L166.30,418.87 L168.08,416.31 L169.87,413.79 L171.65,411.31 L173.43,408.84 L175.21,406.41 L177.00,404.02 L178.78,401.70 L180.56,399.45 L182.34,397.31 L184.12,395.28 L185.91,393.38 L187.69,391.62 L189.47,389.99 L191.25,388.46 L193.04,387.02 L194.82,385.65 L196.60,384.35 L198.38,383.09 L200.16,381.87 L201.95,380.68 L203.73,379.55 L205.51,378.47 L207.29,377.45 L209.08,376.49 L210.86,375.59 L212.64,374.77 L214.42,374.03 L216.20,373.35 L217.99,372.74 L219.77,372.20 L221.55,371.72 L223.33,371.32 L225.12,370.98 L226.90,370.70 L228.68,370.49 L230.46,370.34 L232.24,370.25 L234.03,370.22 L235.81,370.24 L237.59,370.33 L239.37,370.46 L241.16,370.64 L242.94,370.88 L244.72,371.15 L246.50,371.47 L248.28,371.83 L250.07,372.23 L251.85,372.68 L253.63,373.19 L255.41,373.77 L257.20,374.42 L258.98,375.15 L260.76,375.98 L262.54,376.91 L264.32,377.92 L266.11,379.01 L267.89,380.15 L269.67,381.35 L271.45,382.58 L273.24,383.84 L275.02,385.11 L276.80,386.38 L278.58,387.64 L280.36,388.87 L282.15,390.07 L283.93,391.23 L285.71,392.35 L287.49,393.44 L289.28,394.52 L291.06,395.60 L292.84,396.68 L294.62,397.77 L296.40,398.88 L298.19,400.02 L299.97,401.17 L301.75,402.34 L303.53,403.51 L305.32,404.69 L307.10,405.87 L308.88,407.05 L310.66,408.23 L312.44,409.43 L314.23,410.66 L316.01,411.89 L317.79,413.14 L319.57,414.38 L321.36,415.62 L323.14,416.86 L324.92,418.10 L326.70,419.33 L328.48,420.57 L330.27,421.80 L332.05,423.05 L333.83,424.29 L335.61,425.54 L337.40,426.79 L339.18,428.04 L340.96,429.30 L342.74,430.55 L344.52,431.80 L346.31,433.04 L348.09,434.28 L349.87,435.50 L351.65,436.70 L353.44,437.87 L355.22,439.00 L357.00,440.10 L358.78,441.15 L360.56,442.17 L362.35,443.15 L364.13,444.10 L365.91,445.02 L367.69,445.92 L369.48,446.79 L371.26,447.63 L373.04,448.46 L374.82,449.25 L376.60,450.03 L378.39,450.77 L380.17,451.49 L381.95,452.17 L383.73,452.82 L385.52,453.44 L387.30,454.02 L389.08,454.57 L390.86,455.09 L392.64,455.57 L394.43,456.03 L396.21,456.45 L397.99,456.84 L399.77,457.20 L401.56,457.54 L403.34,457.85 L405.12,458.14 L406.90,458.41 L408.68,458.66 L410.47,458.89 L412.25,459.09 L414.03,459.28 L415.81,459.45 L417.60,459.59 L419.38,459.72 L421.16,459.82 L422.94,459.90 L424.72,459.96 L426.51,460.01 L428.29,460.04 L430.07,460.06 L431.85,460.08 L433.64,460.08 L435.42,460.08 L437.20,460.08" fill="none" stroke="#1eefb0" stroke-width="1.25" stroke-linejoin="round"/>
<path d="M116.40,510.00 L118.18,502.16 L119.96,494.37 L121.75,486.70 L123.53,479.21 L125.31,471.92 L127.09,464.77 L128.88,457.65 L130.66,450.47 L132.44,443.14 L134.22,435.73 L136.00,428.44 L137.79,421.37 L139.57,414.51 L141.35,407.88 L143.13,401.48 L144.92,395.31 L146.70,389.38 L148.48,383.69 L150.26,378.24 L152.04,373.04 L153.83,368.09 L155.61,363.40 L157.39,358.96 L159.17,354.78 L160.96,350.86 L162.74,347.21 L164.52,343.81 L166.30,340.65 L168.08,337.74 L169.87,335.06 L171.65,332.60 L173.43,330.36 L175.21,328.34 L177.00,326.52 L178.78,324.89 L180.56,323.45 L182.34,322.20 L184.12,321.11 L185.91,320.20 L187.69,319.44 L189.47,318.85 L191.25,318.42 L193.04,318.14 L194.82,318.03 L196.60,318.07 L198.38,318.27 L200.16,318.62 L201.95,319.10 L203.73,319.73 L205.51,320.48 L207.29,321.35 L209.08,322.34 L210.86,323.44 L212.64,324.65 L214.42,325.96 L216.20,327.37 L217.99,328.87 L219.77,330.46 L221.55,332.13 L223.33,333.88 L225.12,335.71 L226.90,337.60 L228.68,339.55 L230.46,341.54 L232.24,343.57 L234.03,345.63 L235.81,347.71 L237.59,349.80 L239.37,351.91 L241.16,354.04 L242.94,356.21 L244.72,358.42 L246.50,360.68 L248.28,362.99 L250.07,365.35 L251.85,367.75 L253.63,370.19 L255.41,372.65 L257.20,375.11 L258.98,377.58 L260.76,380.02 L262.54,382.45 L264.32,384.87 L266.11,387.27 L267.89,389.68 L269.67,392.10 L271.45,394.52 L273.24,396.96 L275.02,399.41 L276.80,401.85 L278.58,404.28 L280.36,406.71 L282.15,409.11 L283.93,411.50 L285.71,413.86 L287.49,416.20 L289.28,418.52 L291.06,420.81 L292.84,423.08 L294.62,425.32 L296.40,427.54 L298.19,429.73 L299.97,431.90 L301.75,434.05 L303.53,436.17 L305.32,438.27 L307.10,440.34 L308.88,442.39 L310.66,444.41 L312.44,446.41 L314.23,448.37 L316.01,450.31 L317.79,452.22 L319.57,454.09 L321.36,455.92 L323.14,457.73 L324.92,459.49 L326.70,461.22 L328.48,462.91 L330.27,464.56 L332.05,466.17 L333.83,467.73 L335.61,469.26 L337.40,470.74 L339.18,472.18 L340.96,473.59 L342.74,474.95 L344.52,476.27 L346.31,477.56 L348.09,478.81 L349.87,480.03 L351.65,481.21 L353.44,482.36 L355.22,483.48 L357.00,484.58 L358.78,485.65 L360.56,486.70 L362.35,487.72 L364.13,488.70 L365.91,489.65 L367.69,490.56 L369.48,491.44 L371.26,492.27 L373.04,493.06 L374.82,493.81 L376.60,494.53 L378.39,495.21 L380.17,495.87 L381.95,496.51 L383.73,497.12 L385.52,497.70 L387.30,498.27 L389.08,498.81 L390.86,499.32 L392.64,499.81 L394.43,500.27 L396.21,500.70 L397.99,501.10 L399.77,501.48 L401.56,501.84 L403.34,502.18 L405.12,502.50 L406.90,502.81 L408.68,503.10 L410.47,503.39 L412.25,503.66 L414.03,503.91 L415.81,504.15 L417.60,504.37 L419.38,504.58 L421.16,504.76 L422.94,504.93 L424.72,505.08 L426.51,505.22 L428.29,505.35 L430.07,505.46 L431.85,505.57 L433.64,505.67 L435.42,505.77 L437.20,505.87" fill="none" stroke="#000000" stroke-width="1.25" stroke-linejoin="round"/>
<path d="M116.40,510.00 L118.18,504.07 L119.96,498.15 L121.75,492.29 L123.53,486.50 L125.31,480.80 L127.09,475.20 L128.88,469.70 L130.66,464.30 L132.44,459.01 L134.22,453.82 L136.00,448.75 L137.79,443.79 L139.57,438.92 L141.35,434.14 L143.13,429.42 L144.92,424.74 L146.70,420.10 L148.48,415.47 L150.26,410.85 L152.04,406.27 L153.83,401.74 L155.61,397.30 L157.39,392.95 L159.17,388.73 L160.96,384.65 L162.74,380.72 L164.52,376.94 L166.30,373.30 L168.08,369.79 L169.87,366.41 L171.65,363.16 L173.43,360.02 L175.21,356.99 L177.00,354.10 L178.78,351.33 L180.56,348.70 L182.34,346.22 L184.12,343.90 L185.91,341.74 L187.69,339.75 L189.47,337.92 L191.25,336.23 L193.04,334.70 L194.82,333.29 L196.60,332.02 L198.38,330.88 L200.16,329.85 L201.95,328.94 L203.73,328.15 L205.51,327.48 L207.29,326.93 L209.08,326.51 L210.86,326.21 L212.64,326.03 L214.42,325.97 L216.20,326.02 L217.99,326.18 L219.77,326.44 L221.55,326.80 L223.33,327.25 L225.12,327.80 L226.90,328.44 L228.68,329.16 L230.46,329.97 L232.24,330.87 L234.03,331.86 L235.81,332.93 L237.59,334.08 L239.37,335.32 L241.16,336.66 L242.94,338.08 L244.72,339.60 L246.50,341.22 L248.28,342.94 L250.07,344.75 L251.85,346.66 L253.63,348.66 L255.41,350.72 L257.20,352.86 L258.98,355.05 L260.76,357.30 L262.54,359.59 L264.32,361.91 L266.11,364.27 L267.89,366.65 L269.67,369.06 L271.45,371.50 L273.24,373.95 L275.02,376.44 L276.80,378.95 L278.58,381.48 L280.36,384.06 L282.15,386.66 L283.93,389.30 L285.71,391.97 L287.49,394.66 L289.28,397.37 L291.06,400.08 L292.84,402.78 L294.62,405.47 L296.40,408.13 L298.19,410.77 L299.97,413.41 L301.75,416.06 L303.53,418.72 L305.32,421.40 L307.10,424.10 L308.88,426.84 L310.66,429.59 L312.44,432.36 L314.23,435.11 L316.01,437.85 L317.79,440.55 L319.57,443.15 L321.36,445.55 L323.14,447.78 L324.92,449.86 L326.70,451.82 L328.48,453.71 L330.27,455.54 L332.05,457.37 L333.83,459.21 L335.61,461.06 L337.40,462.92 L339.18,464.75 L340.96,466.55 L342.74,468.29 L344.52,469.97 L346.31,471.56 L348.09,473.08 L349.87,474.53 L351.65,475.93 L353.44,477.30 L355.22,478.65 L357.00,479.99 L358.78,481.34 L360.56,482.68 L362.35,484.01 L364.13,485.31 L365.91,486.57 L367.69,487.76 L369.48,488.88 L371.26,489.91 L373.04,490.86 L374.82,491.74 L376.60,492.55 L378.39,493.31 L380.17,494.03 L381.95,494.71 L383.73,495.38 L385.52,496.02 L387.30,496.65 L389.08,497.25 L390.86,497.84 L392.64,498.40 L394.43,498.95 L396.21,499.48 L397.99,499.99 L399.77,500.47 L401.56,500.92 L403.34,501.34 L405.12,501.73 L406.90,502.08 L408.68,502.38 L410.47,502.64 L412.25,502.88 L414.03,503.08 L415.81,503.25 L417.60,503.41 L419.38,503.55 L421.16,503.67 L422.94,503.79 L424.72,503.91 L426.51,504.01 L428.29,504.12 L430.07,504.21 L431.85,504.31 L433.64,504.40 L435.42,504.48 L437.20,504.57" fill="none" stroke="#1c3cff" stroke-width="1.25" stroke-linejoin="round"/>
</g>
<text transform="translate(108.70,510.70) scale(0.9662,1)" class="t" text-anchor="end">0</text>
<text transform="translate(108.70,479.98) scale(0.9662,1)" class="t" text-anchor="end">5</text>
<text transform="translate(108.70,439.47) scale(0.9662,1)" class="t" text-anchor="end">10</text>
<text transform="translate(108.70,398.95) scale(0.9662,1)" class="t" text-anchor="end">15</text>
<text transform="translate(108.70,358.43) scale(0.9662,1)" class="t" text-anchor="end">20</text>
<text transform="translate(108.70,317.92) scale(0.9662,1)" class="t" text-anchor="end">25</text>
<text transform="translate(108.70,284.80) scale(0.9662,1)" class="t" text-anchor="end">30</text>
<text transform="translate(116.50,547.00) scale(0.9662,1)" class="t" text-anchor="middle">0</text>
<text transform="translate(187.79,547.00) scale(0.9662,1)" class="t" text-anchor="middle">20</text>
<text transform="translate(259.08,547.00) scale(0.9662,1)" class="t" text-anchor="middle">40</text>
<text transform="translate(330.37,547.00) scale(0.9662,1)" class="t" text-anchor="middle">60</text>
<text transform="translate(401.66,547.00) scale(0.9662,1)" class="t" text-anchor="middle">80</text>
<text transform="translate(419.16,531.70) scale(0.9662,1)" class="s" text-anchor="start">o</text>
<text transform="translate(276.90,579.00) scale(1.12,1)" class="al" text-anchor="middle">α</text>
<g transform="translate(55.8,388.45) rotate(-90)">
<text transform="translate(-70.20,0.00) scale(0.9662,1)" class="t" text-anchor="start">PDF <tspan dx="-1.03">(</tspan></text>
<path d="M1.8,-17.2 L13.2,-0.4 M1.8,-0.4 L13.2,-17.2" stroke="#000" stroke-width="1.7" fill="none"/>
<text transform="translate(19.00,0.00) scale(0.9662,1)" class="t" text-anchor="start">10</text>
<text transform="translate(52.80,-12.70) scale(0.9662,1)" class="s" text-anchor="start">3</text>
<text transform="translate(60.60,0.00) scale(0.9662,1)" class="t" text-anchor="start">)</text>
</g>
<path d="M501.30,510.0 v-5.0 M501.30,266.9 v5.0 M519.11,510.0 v-2.5 M519.11,266.9 v2.5 M536.91,510.0 v-2.5 M536.91,266.9 v2.5 M554.72,510.0 v-2.5 M554.72,266.9 v2.5 M572.52,510.0 v-5.0 M572.52,266.9 v5.0 M590.33,510.0 v-2.5 M590.33,266.9 v2.5 M608.13,510.0 v-2.5 M608.13,266.9 v2.5 M625.94,510.0 v-2.5 M625.94,266.9 v2.5 M643.74,510.0 v-5.0 M643.74,266.9 v5.0 M661.55,510.0 v-2.5 M661.55,266.9 v2.5 M679.36,510.0 v-2.5 M679.36,266.9 v2.5 M697.16,510.0 v-2.5 M697.16,266.9 v2.5 M714.97,510.0 v-5.0 M714.97,266.9 v5.0 M732.77,510.0 v-2.5 M732.77,266.9 v2.5 M750.58,510.0 v-2.5 M750.58,266.9 v2.5 M768.38,510.0 v-2.5 M768.38,266.9 v2.5 M786.19,510.0 v-5.0 M786.19,266.9 v5.0 M803.99,510.0 v-2.5 M803.99,266.9 v2.5 M821.80,510.0 v-2.5 M821.80,266.9 v2.5 M501.3,510.00 h6.5 M821.8,510.00 h-6.5 M501.3,501.90 h3.25 M821.8,501.90 h-3.25 M501.3,493.79 h3.25 M821.8,493.79 h-3.25 M501.3,485.69 h3.25 M821.8,485.69 h-3.25 M501.3,477.59 h3.25 M821.8,477.59 h-3.25 M501.3,469.48 h6.5 M821.8,469.48 h-6.5 M501.3,461.38 h3.25 M821.8,461.38 h-3.25 M501.3,453.28 h3.25 M821.8,453.28 h-3.25 M501.3,445.17 h3.25 M821.8,445.17 h-3.25 M501.3,437.07 h3.25 M821.8,437.07 h-3.25 M501.3,428.97 h6.5 M821.8,428.97 h-6.5 M501.3,420.86 h3.25 M821.8,420.86 h-3.25 M501.3,412.76 h3.25 M821.8,412.76 h-3.25 M501.3,404.66 h3.25 M821.8,404.66 h-3.25 M501.3,396.55 h3.25 M821.8,396.55 h-3.25 M501.3,388.45 h6.5 M821.8,388.45 h-6.5 M501.3,380.35 h3.25 M821.8,380.35 h-3.25 M501.3,372.24 h3.25 M821.8,372.24 h-3.25 M501.3,364.14 h3.25 M821.8,364.14 h-3.25 M501.3,356.04 h3.25 M821.8,356.04 h-3.25 M501.3,347.93 h6.5 M821.8,347.93 h-6.5 M501.3,339.83 h3.25 M821.8,339.83 h-3.25 M501.3,331.73 h3.25 M821.8,331.73 h-3.25 M501.3,323.62 h3.25 M821.8,323.62 h-3.25 M501.3,315.52 h3.25 M821.8,315.52 h-3.25 M501.3,307.42 h6.5 M821.8,307.42 h-6.5 M501.3,299.31 h3.25 M821.8,299.31 h-3.25 M501.3,291.21 h3.25 M821.8,291.21 h-3.25 M501.3,283.11 h3.25 M821.8,283.11 h-3.25 M501.3,275.00 h3.25 M821.8,275.00 h-3.25 M501.3,266.90 h6.5 M821.8,266.90 h-6.5" stroke="#000" stroke-width="1.3" fill="none"/>
<rect x="501.3" y="266.9" width="320.50" height="243.10" fill="none" stroke="#000" stroke-width="1.3"/>
<clipPath id="c4"><rect x="501.3" y="266.9" width="320.50" height="243.90"/></clipPath>
<g clip-path="url(#c4)">
<path d="M501.30,510.00 L501.30,504.08 L508.42,504.08 L508.42,493.55 L515.54,493.55 L515.54,480.83 L522.67,480.83 L522.67,470.29 L529.79,470.29 L529.79,459.76 L536.91,459.76 L536.91,450.20 L544.03,450.20 L544.03,440.72 L551.16,440.72 L551.16,433.26 L558.28,433.26 L558.28,424.91 L565.40,424.91 L565.40,417.46 L572.52,417.46 L572.52,411.14 L579.64,411.14 L579.64,404.25 L586.77,404.25 L586.77,398.17 L593.89,398.17 L593.89,394.93 L601.01,394.93 L601.01,392.66 L608.13,392.66 L608.13,390.07 L615.26,390.07 L615.26,387.40 L622.38,387.40 L622.38,385.78 L629.50,385.78 L629.50,385.21 L636.62,385.21 L636.62,385.05 L643.74,385.05 L643.74,385.78 L650.87,385.78 L650.87,386.83 L657.99,386.83 L657.99,388.45 L665.11,388.45 L665.11,389.67 L672.23,389.67 L672.23,390.88 L679.36,390.88 L679.36,392.83 L686.48,392.83 L686.48,395.26 L693.60,395.26 L693.60,397.77 L700.72,397.77 L700.72,400.44 L707.84,400.44 L707.84,403.85 L714.97,403.85 L714.97,408.14 L722.09,408.14 L722.09,412.11 L729.21,412.11 L729.21,416.41 L736.33,416.41 L736.33,420.13 L743.46,420.13 L743.46,423.86 L750.58,423.86 L750.58,426.94 L757.70,426.94 L757.70,429.70 L764.82,429.70 L764.82,432.69 L771.94,432.69 L771.94,435.21 L779.07,435.21 L779.07,436.42 L786.19,436.42 L786.19,437.72 L793.31,437.72 L793.31,438.45 L800.43,438.45 L800.43,438.93 L807.56,438.93 L807.56,439.66 L814.68,439.66 L814.68,441.45 L821.80,441.45" fill="none" stroke="#ff0000" stroke-width="1.15" stroke-linejoin="miter"/>
<path d="M501.30,510.00 L501.30,492.82 L508.42,492.82 L508.42,477.83 L515.54,477.83 L515.54,454.49 L522.67,454.49 L522.67,430.75 L529.79,430.75 L529.79,411.46 L536.91,411.46 L536.91,390.39 L544.03,390.39 L544.03,370.30 L551.16,370.30 L551.16,353.36 L558.28,353.36 L558.28,346.39 L565.40,346.39 L565.40,338.86 L572.52,338.86 L572.52,328.81 L579.64,328.81 L579.64,324.35 L586.77,324.35 L586.77,315.52 L593.89,315.52 L593.89,317.06 L601.01,317.06 L601.01,318.76 L608.13,318.76 L608.13,321.27 L615.26,321.27 L615.26,330.11 L622.38,330.11 L622.38,346.39 L629.50,346.39 L629.50,349.39 L636.62,349.39 L636.62,358.87 L643.74,358.87 L643.74,365.92 L650.87,365.92 L650.87,376.38 L657.99,376.38 L657.99,389.91 L665.11,389.91 L665.11,398.17 L672.23,398.17 L672.23,406.44 L679.36,406.44 L679.36,415.19 L686.48,415.19 L686.48,426.21 L693.60,426.21 L693.60,436.91 L700.72,436.91 L700.72,445.98 L707.84,445.98 L707.84,456.52 L714.97,456.52 L714.97,461.46 L722.09,461.46 L722.09,469.00 L729.21,469.00 L729.21,475.32 L736.33,475.32 L736.33,482.29 L743.46,482.29 L743.46,487.80 L750.58,487.80 L750.58,491.04 L757.70,491.04 L757.70,494.85 L764.82,494.85 L764.82,497.85 L771.94,497.85 L771.94,500.36 L779.07,500.36 L779.07,502.38 L786.19,502.38 L786.19,504.08 L793.31,504.08 L793.31,504.89 L800.43,504.89 L800.43,505.38 L807.56,505.38 L807.56,505.87 L814.68,505.87 L814.68,505.87 L821.80,505.87" fill="none" stroke="#0a0a0a" stroke-width="1.15" stroke-linejoin="miter"/>
<path d="M501.30,510.00 L503.08,504.13 L504.86,498.28 L506.64,492.46 L508.42,486.69 L510.20,480.98 L511.98,475.34 L513.76,469.80 L515.54,464.36 L517.33,459.04 L519.11,453.86 L520.89,448.83 L522.67,443.97 L524.45,439.28 L526.23,434.77 L528.01,430.46 L529.79,426.35 L531.57,422.46 L533.35,418.78 L535.13,415.33 L536.91,412.09 L538.69,409.06 L540.47,406.24 L542.25,403.61 L544.03,401.17 L545.81,398.91 L547.59,396.83 L549.38,394.90 L551.16,393.12 L552.94,391.47 L554.72,389.94 L556.50,388.52 L558.28,387.20 L560.06,385.96 L561.84,384.80 L563.62,383.72 L565.40,382.72 L567.18,381.78 L568.96,380.91 L570.74,380.09 L572.52,379.34 L574.30,378.65 L576.08,378.02 L577.86,377.46 L579.64,376.97 L581.42,376.55 L583.21,376.21 L584.99,375.93 L586.77,375.72 L588.55,375.58 L590.33,375.48 L592.11,375.43 L593.89,375.43 L595.67,375.48 L597.45,375.57 L599.23,375.72 L601.01,375.91 L602.79,376.15 L604.57,376.45 L606.35,376.79 L608.13,377.19 L609.91,377.63 L611.69,378.12 L613.48,378.64 L615.26,379.18 L617.04,379.73 L618.82,380.29 L620.60,380.84 L622.38,381.38 L624.16,381.91 L625.94,382.45 L627.72,383.01 L629.50,383.59 L631.28,384.20 L633.06,384.83 L634.84,385.49 L636.62,386.17 L638.40,386.87 L640.18,387.57 L641.96,388.29 L643.74,389.01 L645.52,389.74 L647.31,390.48 L649.09,391.24 L650.87,392.03 L652.65,392.85 L654.43,393.71 L656.21,394.61 L657.99,395.54 L659.77,396.50 L661.55,397.48 L663.33,398.47 L665.11,399.47 L666.89,400.47 L668.67,401.45 L670.45,402.43 L672.23,403.41 L674.01,404.39 L675.79,405.38 L677.57,406.39 L679.36,407.41 L681.14,408.45 L682.92,409.51 L684.70,410.59 L686.48,411.67 L688.26,412.75 L690.04,413.83 L691.82,414.90 L693.60,415.95 L695.38,416.99 L697.16,418.02 L698.94,419.06 L700.72,420.10 L702.50,421.17 L704.28,422.26 L706.06,423.39 L707.84,424.54 L709.62,425.71 L711.41,426.89 L713.19,428.06 L714.97,429.23 L716.75,430.36 L718.53,431.47 L720.31,432.54 L722.09,433.60 L723.87,434.63 L725.65,435.66 L727.43,436.69 L729.21,437.71 L730.99,438.74 L732.77,439.77 L734.55,440.81 L736.33,441.83 L738.11,442.83 L739.89,443.80 L741.67,444.73 L743.46,445.62 L745.24,446.47 L747.02,447.29 L748.80,448.08 L750.58,448.85 L752.36,449.59 L754.14,450.32 L755.92,451.03 L757.70,451.73 L759.48,452.41 L761.26,453.08 L763.04,453.73 L764.82,454.36 L766.60,454.98 L768.38,455.58 L770.16,456.16" fill="none" stroke="#ff0000" stroke-width="1.25" stroke-linejoin="round"/>
<path d="M501.30,510.00 L503.08,505.64 L504.86,501.28 L506.64,496.91 L508.42,492.54 L510.20,488.16 L511.98,483.76 L513.76,479.35 L515.54,474.93 L517.33,470.52 L519.11,466.17 L520.89,461.94 L522.67,457.86 L524.45,453.99 L526.23,450.38 L528.01,447.09 L529.79,444.07 L531.57,441.19 L533.35,438.25 L535.13,435.18 L536.91,432.02 L538.69,428.82 L540.47,425.62 L542.25,422.46 L544.03,419.40 L545.81,416.47 L547.59,413.71 L549.38,411.09 L551.16,408.62 L552.94,406.28 L554.72,404.06 L556.50,401.94 L558.28,399.93 L560.06,398.01 L561.84,396.16 L563.62,394.40 L565.40,392.70 L567.18,391.07 L568.96,389.49 L570.74,387.97 L572.52,386.49 L574.30,385.06 L576.08,383.68 L577.86,382.37 L579.64,381.12 L581.42,379.94 L583.21,378.83 L584.99,377.80 L586.77,376.84 L588.55,375.95 L590.33,375.13 L592.11,374.38 L593.89,373.69 L595.67,373.07 L597.45,372.51 L599.23,372.02 L601.01,371.58 L602.79,371.20 L604.57,370.89 L606.35,370.63 L608.13,370.43 L609.91,370.29 L611.69,370.21 L613.48,370.19 L615.26,370.23 L617.04,370.35 L618.82,370.55 L620.60,370.84 L622.38,371.22 L624.16,371.68 L625.94,372.22 L627.72,372.81 L629.50,373.46 L631.28,374.14 L633.06,374.86 L634.84,375.61 L636.62,376.38 L638.40,377.17 L640.18,377.98 L641.96,378.81 L643.74,379.64 L645.52,380.49 L647.31,381.36 L649.09,382.25 L650.87,383.17 L652.65,384.12 L654.43,385.11 L656.21,386.14 L657.99,387.21 L659.77,388.32 L661.55,389.47 L663.33,390.66 L665.11,391.88 L666.89,393.13 L668.67,394.42 L670.45,395.73 L672.23,397.05 L674.01,398.39 L675.79,399.74 L677.57,401.08 L679.36,402.42 L681.14,403.74 L682.92,405.05 L684.70,406.34 L686.48,407.61 L688.26,408.86 L690.04,410.09 L691.82,411.30 L693.60,412.49 L695.38,413.66 L697.16,414.82 L698.94,415.97 L700.72,417.12 L702.50,418.26 L704.28,419.42 L706.06,420.58 L707.84,421.76 L709.62,422.95 L711.41,424.16 L713.19,425.39 L714.97,426.63 L716.75,427.90 L718.53,429.19 L720.31,430.48 L722.09,431.77 L723.87,433.04 L725.65,434.28 L727.43,435.47 L729.21,436.62 L730.99,437.74 L732.77,438.83 L734.55,439.89 L736.33,440.93 L738.11,441.95 L739.89,442.93 L741.67,443.90 L743.46,444.85 L745.24,445.77 L747.02,446.67 L748.80,447.55 L750.58,448.41 L752.36,449.24 L754.14,450.04 L755.92,450.83 L757.70,451.58 L759.48,452.31 L761.26,453.02 L763.04,453.69 L764.82,454.35 L766.60,454.98 L768.38,455.58 L770.16,456.16 L771.94,456.71 L773.72,457.24 L775.51,457.75 L777.29,458.23 L779.07,458.69 L780.85,459.13 L782.63,459.54 L784.41,459.93 L786.19,460.29 L787.97,460.63 L789.75,460.94 L791.53,461.22 L793.31,461.48 L795.09,461.70 L796.87,461.90 L798.65,462.08 L800.43,462.23 L802.21,462.35 L803.99,462.46 L805.77,462.55 L807.56,462.61 L809.34,462.66 L811.12,462.68 L812.90,462.68 L814.68,462.65 L816.46,462.59 L818.24,462.52 L820.02,462.44 L821.80,462.35" fill="none" stroke="#1eefb0" stroke-width="1.25" stroke-linejoin="round"/>
<path d="M501.30,510.00 L503.08,496.41 L504.86,483.06 L506.64,470.18 L508.42,458.00 L510.20,446.77 L511.98,436.63 L513.76,427.46 L515.54,419.09 L517.33,411.35 L519.11,404.08 L520.89,397.10 L522.67,390.34 L524.45,383.82 L526.23,377.56 L528.01,371.59 L529.79,365.92 L531.57,360.59 L533.35,355.61 L535.13,351.00 L536.91,346.74 L538.69,342.81 L540.47,339.22 L542.25,335.94 L544.03,332.97 L545.81,330.28 L547.59,327.87 L549.38,325.73 L551.16,323.83 L552.94,322.17 L554.72,320.72 L556.50,319.48 L558.28,318.42 L560.06,317.55 L561.84,316.84 L563.62,316.32 L565.40,315.97 L567.18,315.78 L568.96,315.77 L570.74,315.92 L572.52,316.21 L574.30,316.64 L576.08,317.19 L577.86,317.84 L579.64,318.59 L581.42,319.42 L583.21,320.31 L584.99,321.27 L586.77,322.31 L588.55,323.44 L590.33,324.68 L592.11,326.05 L593.89,327.56 L595.67,329.23 L597.45,331.05 L599.23,333.02 L601.01,335.09 L602.79,337.25 L604.57,339.46 L606.35,341.69 L608.13,343.92 L609.91,346.13 L611.69,348.32 L613.48,350.50 L615.26,352.68 L617.04,354.85 L618.82,357.03 L620.60,359.22 L622.38,361.43 L624.16,363.66 L625.94,365.90 L627.72,368.15 L629.50,370.41 L631.28,372.67 L633.06,374.95 L634.84,377.22 L636.62,379.50 L638.40,381.78 L640.18,384.06 L641.96,386.34 L643.74,388.62 L645.52,390.89 L647.31,393.16 L649.09,395.42 L650.87,397.68 L652.65,399.93 L654.43,402.16 L656.21,404.39 L657.99,406.62 L659.77,408.84 L661.55,411.06 L663.33,413.29 L665.11,415.53 L666.89,417.79 L668.67,420.06 L670.45,422.35 L672.23,424.63 L674.01,426.89 L675.79,429.13 L677.57,431.34 L679.36,433.49 L681.14,435.58 L682.92,437.61 L684.70,439.59 L686.48,441.54 L688.26,443.45 L690.04,445.35 L691.82,447.23 L693.60,449.10 L695.38,450.97 L697.16,452.82 L698.94,454.64 L700.72,456.42 L702.50,458.16 L704.28,459.84 L706.06,461.45 L707.84,463.00 L709.62,464.50 L711.41,465.94 L713.19,467.34 L714.97,468.70 L716.75,470.03 L718.53,471.33 L720.31,472.61 L722.09,473.87 L723.87,475.09 L725.65,476.29 L727.43,477.46 L729.21,478.60 L730.99,479.71 L732.77,480.79 L734.55,481.83 L736.33,482.85 L738.11,483.84 L739.89,484.80 L741.67,485.73 L743.46,486.63 L745.24,487.51 L747.02,488.36 L748.80,489.18 L750.58,489.97 L752.36,490.74 L754.14,491.48 L755.92,492.19 L757.70,492.88 L759.48,493.55 L761.26,494.19 L763.04,494.81 L764.82,495.42 L766.60,496.00 L768.38,496.56 L770.16,497.11 L771.94,497.63 L773.72,498.14 L775.51,498.63 L777.29,499.09 L779.07,499.54 L780.85,499.96 L782.63,500.36 L784.41,500.74 L786.19,501.11 L787.97,501.46 L789.75,501.79 L791.53,502.11 L793.31,502.43 L795.09,502.73 L796.87,503.02 L798.65,503.30 L800.43,503.56 L802.21,503.81 L803.99,504.04 L805.77,504.25 L807.56,504.44 L809.34,504.61 L811.12,504.77 L812.90,504.92 L814.68,505.06 L816.46,505.19 L818.24,505.31 L820.02,505.43 L821.80,505.54" fill="none" stroke="#000000" stroke-width="1.25" stroke-linejoin="round"/>
<path d="M501.30,510.00 L503.08,502.30 L504.86,494.61 L506.64,486.91 L508.42,479.21 L510.20,471.54 L511.98,464.04 L513.76,456.90 L515.54,450.30 L517.33,444.39 L519.11,439.04 L520.89,433.90 L522.67,428.79 L524.45,423.72 L526.23,418.70 L528.01,413.74 L529.79,408.88 L531.57,404.12 L533.35,399.48 L535.13,394.98 L536.91,390.61 L538.69,386.37 L540.47,382.27 L542.25,378.31 L544.03,374.48 L545.81,370.78 L547.59,367.23 L549.38,363.82 L551.16,360.56 L552.94,357.45 L554.72,354.50 L556.50,351.71 L558.28,349.09 L560.06,346.63 L561.84,344.33 L563.62,342.18 L565.40,340.16 L567.18,338.28 L568.96,336.51 L570.74,334.85 L572.52,333.30 L574.30,331.86 L576.08,330.55 L577.86,329.36 L579.64,328.32 L581.42,327.42 L583.21,326.67 L584.99,326.09 L586.77,325.64 L588.55,325.33 L590.33,325.14 L592.11,325.06 L593.89,325.08 L595.67,325.19 L597.45,325.41 L599.23,325.74 L601.01,326.17 L602.79,326.71 L604.57,327.36 L606.35,328.12 L608.13,328.99 L609.91,329.98 L611.69,331.08 L613.48,332.27 L615.26,333.54 L617.04,334.90 L618.82,336.32 L620.60,337.80 L622.38,339.34 L624.16,340.95 L625.94,342.63 L627.72,344.41 L629.50,346.28 L631.28,348.27 L633.06,350.38 L634.84,352.62 L636.62,354.98 L638.40,357.43 L640.18,359.96 L641.96,362.55 L643.74,365.18 L645.52,367.83 L647.31,370.50 L649.09,373.16 L650.87,375.82 L652.65,378.46 L654.43,381.06 L656.21,383.62 L657.99,386.15 L659.77,388.65 L661.55,391.14 L663.33,393.63 L665.11,396.12 L666.89,398.63 L668.67,401.17 L670.45,403.72 L672.23,406.29 L674.01,408.85 L675.79,411.40 L677.57,413.93 L679.36,416.42 L681.14,418.86 L682.92,421.26 L684.70,423.63 L686.48,425.98 L688.26,428.31 L690.04,430.63 L691.82,432.96 L693.60,435.29 L695.38,437.62 L697.16,439.94 L698.94,442.24 L700.72,444.49 L702.50,446.68 L704.28,448.81 L706.06,450.85 L707.84,452.82 L709.62,454.72 L711.41,456.56 L713.19,458.35 L714.97,460.11 L716.75,461.85 L718.53,463.56 L720.31,465.27 L722.09,466.95 L723.87,468.60 L725.65,470.22 L727.43,471.80 L729.21,473.34 L730.99,474.83 L732.77,476.27 L734.55,477.66 L736.33,479.00 L738.11,480.31 L739.89,481.56 L741.67,482.78 L743.46,483.96 L745.24,485.10 L747.02,486.21 L748.80,487.27 L750.58,488.28 L752.36,489.26 L754.14,490.19 L755.92,491.08 L757.70,491.92 L759.48,492.72 L761.26,493.48 L763.04,494.21 L764.82,494.90 L766.60,495.56 L768.38,496.20 L770.16,496.80 L771.94,497.39 L773.72,497.94 L775.51,498.47 L777.29,498.97 L779.07,499.45 L780.85,499.89 L782.63,500.32 L784.41,500.72 L786.19,501.09 L787.97,501.45 L789.75,501.79 L791.53,502.11 L793.31,502.42 L795.09,502.72 L796.87,503.00 L798.65,503.27 L800.43,503.51 L802.21,503.75 L803.99,503.96 L805.77,504.16 L807.56,504.34 L809.34,504.51 L811.12,504.66 L812.90,504.80 L814.68,504.92 L816.46,505.05 L818.24,505.16 L820.02,505.27 L821.80,505.38" fill="none" stroke="#1c3cff" stroke-width="1.25" stroke-linejoin="round"/>
</g>
<text transform="translate(493.60,510.70) scale(0.9662,1)" class="t" text-anchor="end">0</text>
<text transform="translate(493.60,479.98) scale(0.9662,1)" class="t" text-anchor="end">5</text>
<text transform="translate(493.60,439.47) scale(0.9662,1)" class="t" text-anchor="end">10</text>
<text transform="translate(493.60,398.95) scale(0.9662,1)" class="t" text-anchor="end">15</text>
<text transform="translate(493.60,358.43) scale(0.9662,1)" class="t" text-anchor="end">20</text>
<text transform="translate(493.60,317.92) scale(0.9662,1)" class="t" text-anchor="end">25</text>
<text transform="translate(493.60,284.80) scale(0.9662,1)" class="t" text-anchor="end">30</text>
<text transform="translate(501.40,547.00) scale(0.9662,1)" class="t" text-anchor="middle">0</text>
<text transform="translate(572.62,547.00) scale(0.9662,1)" class="t" text-anchor="middle">20</text>
<text transform="translate(643.84,547.00) scale(0.9662,1)" class="t" text-anchor="middle">40</text>
<text transform="translate(715.07,547.00) scale(0.9662,1)" class="t" text-anchor="middle">60</text>
<text transform="translate(786.29,547.00) scale(0.9662,1)" class="t" text-anchor="middle">80</text>
<text transform="translate(803.79,531.70) scale(0.9662,1)" class="s" text-anchor="start">o</text>
<text transform="translate(661.65,579.00) scale(1.12,1)" class="al" text-anchor="middle">α</text>
<defs><g id="xi" fill="none" stroke="#000" stroke-linecap="round" stroke-linejoin="round"><path d="M3.9,-23.3 C2.4,-22.8 1.9,-21.3 2.6,-20.2 C3.0,-19.6 3.6,-19.4 4.3,-19.5 M3.6,-19.3 C2.9,-17.8 2.9,-15.6 3.4,-14.4 C3.8,-13.4 4.4,-12.9 5.2,-12.8" stroke-width="1.15"/><path d="M4.8,-19.7 L9.2,-21.3" stroke-width="2.3"/><path d="M5.2,-13.0 L10.6,-14.0" stroke-width="2.2"/><path d="M4.8,-12.5 C3.2,-11.6 2.0,-10.3 1.5,-8.9" stroke-width="1.5"/><path d="M1.5,-8.9 C0.9,-7.2 1.0,-5.2 2.2,-3.8 C3.0,-2.9 4.0,-2.4 5.2,-2.3 L8.8,-2.1 C11.2,-1.9 12.4,-0.6 12.4,1.3 C12.4,3.2 11.2,4.4 9.4,4.6" stroke-width="2.3"/><circle cx="8.0" cy="4.4" r="1.55" fill="#000" stroke="none"/></g></defs>
<defs><g id="gt"><polygon points="0,-17.8 12.3,-9.8 11.9,-8.9 8.6,-8.9 0,-14.4" fill="#000"/><path d="M11.6,-9.3 L0,-2.0" stroke="#000" stroke-width="1.05" fill="none"/></g><g id="lt"><polygon points="-0.1,-6.9 9.5,-3.0 9.5,-0.3 0.2,-5.9" fill="#000"/><path d="M0.4,-6.9 L9.5,-12.9" stroke="#000" stroke-width="0.95" fill="none"/></g></defs>
<use href="#gt" transform="translate(226.0,224.6)"/>
<use href="#gt" transform="translate(610.7,224.6)"/>
<use href="#gt" transform="translate(226.0,485.7)"/>
<use href="#lt" transform="translate(711.4,347)"/>
<use href="#xi" transform="translate(202.4,224.6) scale(1.0)"/>
<use href="#xi" transform="translate(587.2,224.6) scale(1.0)"/>
<use href="#xi" transform="translate(202.4,485.7) scale(1.0)"/>
<use href="#xi" transform="translate(624.2,485.6) scale(1.0)"/>
<use href="#xi" transform="translate(691.9,347) scale(0.785)"/>
<text transform="translate(201.00,224.60) scale(0.9662,1)" class="t" text-anchor="start"><tspan class="xi" style="fill:none;stroke:none">ξ</tspan> <tspan style="fill:none;stroke:none">&gt;</tspan> 40<tspan class="s" dy="-12.3" dx="2.79">o</tspan></text>
<text transform="translate(585.80,224.60) scale(0.9662,1)" class="t" text-anchor="start"><tspan class="xi" style="fill:none;stroke:none">ξ</tspan> <tspan style="fill:none;stroke:none">&gt;</tspan> 30<tspan class="s" dy="-12.3" dx="2.79">o</tspan></text>
<text transform="translate(201.00,485.70) scale(0.9662,1)" class="t" text-anchor="start"><tspan class="xi" style="fill:none;stroke:none">ξ</tspan> <tspan style="fill:none;stroke:none">&gt;</tspan> 20<tspan class="s" dy="-12.3" dx="2.79">o</tspan></text>
<text transform="translate(586.30,485.60) scale(0.9662,1)" class="t" text-anchor="start">all <tspan class="xi" style="fill:none;stroke:none">ξ</tspan></text>
<path d="M597.5,30 H632.7" stroke="#ff0000" stroke-width="1.25"/>
<path d="M597.5,54.2 H632.7" stroke="#000" stroke-width="1.25"/>
<text transform="translate(651.00,33.70) scale(0.9662,1)" class="l" text-anchor="start">entire data set</text>
<text transform="translate(651.00,61.70) scale(0.9662,1)" class="l" text-anchor="start">subset of stable</text>
<text transform="translate(651.00,86.70) scale(0.9662,1)" class="l" text-anchor="start">turbulence levels</text>
<path d="M561.6,290.4 H597.2" stroke="#1c3cff" stroke-width="1.25"/>
<path d="M561.6,297.6 H597.2" stroke="#1eefb0" stroke-width="1.25"/>
<text transform="translate(615.80,298.70) scale(0.9662,1)" class="l" text-anchor="start">model corrected for</text>
<text transform="translate(629.60,322.00) scale(0.9662,1)" class="l" text-anchor="start">"compressibility"</text>
<text transform="translate(668.10,347.00) scale(0.9662,1)" class="l" text-anchor="start">at <tspan class="lxi" style="fill:none;stroke:none">ξ</tspan> <tspan style="fill:none;stroke:none">&lt;</tspan> 28<tspan class="ls" dy="-10.7" dx="2.69">o</tspan></text>
</svg>
</body></html>
